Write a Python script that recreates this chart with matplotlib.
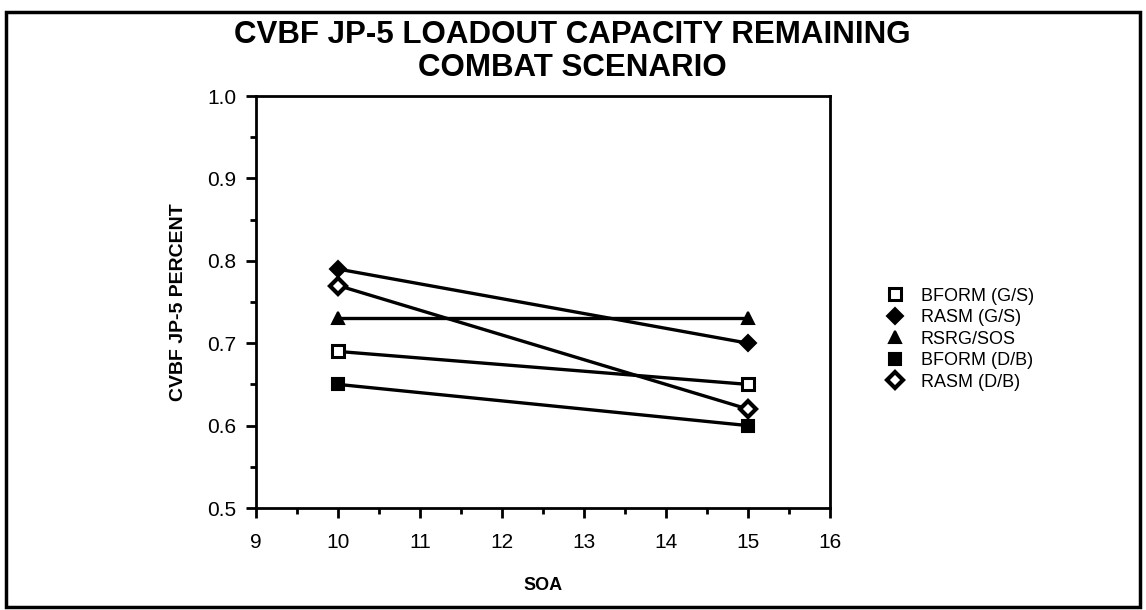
import matplotlib
matplotlib.use("Agg")
import matplotlib.pyplot as plt
from matplotlib.patches import Rectangle
from matplotlib.ticker import MultipleLocator

plt.rcParams['font.family'] = ['Liberation Sans', 'DejaVu Sans']

soa = [10, 15]
series_names = ["BFORM (G/S)", "RASM (G/S)", "RSRG/SOS", "BFORM (D/B)", "RASM (D/B)"]
bform_gs = [0.69, 0.65]
rasm_gs = [0.79, 0.70]
rsrg_sos = [0.73, 0.73]
bform_db = [0.65, 0.60]
rasm_db = [0.77, 0.62]
x_ticks = [9, 10, 11, 12, 13, 14, 15, 16]
y_ticks = [0.5, 0.6, 0.7, 0.8, 0.9, 1.0]

fig = plt.figure(figsize=(11.46, 6.10), dpi=100)
ax = fig.add_axes([256/1146, 1-508/610, (830-256)/1146, (508-96)/610])

styles = [
    dict(marker='s', mfc='white', mec='black', ms=9, mew=2.2),
    dict(marker='D', mfc='black', mec='black', ms=8, mew=1.5),
    dict(marker='^', mfc='black', mec='black', ms=9, mew=1.5),
    dict(marker='s', mfc='black', mec='black', ms=9, mew=1.5),
    dict(marker='D', mfc='white', mec='black', ms=8, mew=3.0),
]
data = [bform_gs, rasm_gs, rsrg_sos, bform_db, rasm_db]
for name, vals, st in zip(series_names, data, styles):
    ax.plot(soa, vals, color='black', lw=2.4, label=name, **st)

ax.set_xlim(9, 16)
ax.set_ylim(0.5, 1.0)
ax.set_xticks(x_ticks)
ax.set_xticklabels([str(t) for t in x_ticks])
ax.set_yticks(y_ticks)
ax.set_yticklabels([f"{t:.1f}" for t in y_ticks])
ax.xaxis.set_minor_locator(MultipleLocator(0.5))
ax.yaxis.set_minor_locator(MultipleLocator(0.05))
ax.tick_params(which='major', direction='out', length=7, width=2, labelsize=15, pad=7)
ax.tick_params(which='minor', direction='out', length=4, width=2)
ax.tick_params(axis='x', pad=11)
for s in ax.spines.values():
    s.set_linewidth(2)

ax.set_xlabel("SOA", fontsize=13, fontweight='bold', labelpad=18)
ax.set_ylabel("CVBF JP-5 PERCENT", fontsize=14, fontweight='bold', labelpad=15)

fig.text(572/1146, 1-35/610, "CVBF JP-5 LOADOUT CAPACITY REMAINING", ha='center', va='center',
         fontsize=22.5, fontweight='bold')
fig.text(572/1146, 1-68/610, "COMBAT SCENARIO", ha='center', va='center',
         fontsize=22.5, fontweight='bold')

leg = ax.legend(loc='center left', bbox_to_anchor=(1.07, 0.41), frameon=False, fontsize=13,
                handlelength=1.0, handletextpad=0.9, labelspacing=0.25, numpoints=1)
for h in leg.get_lines():
    h.set_linestyle('none')

fig.patches.append(Rectangle((6/1146, 3/610), (1140-6)/1146, (607-12)/610, transform=fig.transFigure,
                             fill=False, lw=2.5, ec='black'))

fig.savefig("out.png", dpi=100)
